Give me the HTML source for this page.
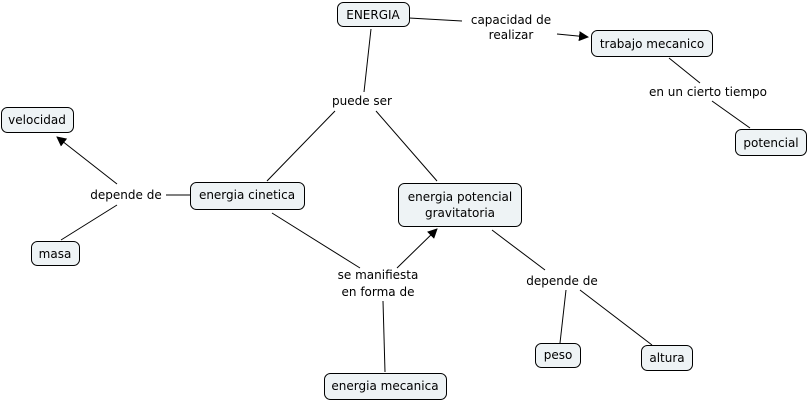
<!DOCTYPE html>
<html><head><style>body{margin:0;background:#fff}svg{display:block}text{font-family:"DejaVu Sans",Verdana,sans-serif;font-size:12px;fill:#000}</style></head><body>
<svg width="808" height="402" viewBox="0 0 808 402">
<defs><marker id="a" markerWidth="10" markerHeight="10" refX="9" refY="5" orient="auto" markerUnits="userSpaceOnUse"><path d="M0,0 L10,5 L0,10z" fill="#000"/></marker></defs>
<g stroke="#000" stroke-width="1" fill="none">
<line x1="409" y1="18" x2="462" y2="21"/>
<line x1="557" y1="34" x2="588" y2="37" marker-end="url(#a)"/>
<line x1="371" y1="29" x2="364" y2="92"/>
<line x1="335" y1="111" x2="267" y2="181"/>
<line x1="376" y1="111" x2="437" y2="181"/>
<line x1="669" y1="58" x2="700" y2="83"/>
<line x1="712" y1="101" x2="750" y2="128"/>
<line x1="166" y1="195" x2="190" y2="195"/>
<line x1="117" y1="184" x2="57" y2="137" marker-end="url(#a)"/>
<line x1="117" y1="205" x2="61" y2="240"/>
<line x1="272" y1="213" x2="360" y2="268"/>
<line x1="397" y1="268" x2="437" y2="229" marker-end="url(#a)"/>
<line x1="383" y1="301" x2="385" y2="372"/>
<line x1="492" y1="230" x2="545" y2="270"/>
<line x1="566" y1="290" x2="560" y2="343"/>
<line x1="580" y1="290" x2="652" y2="345"/>
</g>
<g fill="#eef3f5" stroke="#000">
<rect x="337.5" y="2.5" width="72" height="24" rx="6"/>
<rect x="591.5" y="30.5" width="121" height="26" rx="6"/>
<rect x="735.5" y="129.5" width="71" height="26" rx="6"/>
<rect x="1.5" y="107.5" width="72" height="25" rx="6"/>
<rect x="31.5" y="241.5" width="48" height="24" rx="6"/>
<rect x="190.5" y="182.5" width="114" height="27" rx="6"/>
<rect x="398.5" y="183.5" width="123" height="43" rx="6"/>
<rect x="535.5" y="343.5" width="45" height="24" rx="6"/>
<rect x="641.5" y="345.5" width="51" height="25" rx="6"/>
<rect x="324.5" y="373.5" width="122" height="26" rx="6"/>
</g>
<g text-anchor="middle">
<text x="373" y="19">ENERGIA</text>
<text x="652" y="48">trabajo mecanico</text>
<text x="771" y="147">potencial</text>
<text x="37" y="124">velocidad</text>
<text x="55" y="258">masa</text>
<text x="247" y="199">energia cinetica</text>
<text x="460" y="201">energia potencial</text>
<text x="460" y="217">gravitatoria</text>
<text x="558" y="359">peso</text>
<text x="667" y="362">altura</text>
<text x="385" y="390">energia mecanica</text>
<text x="511" y="24">capacidad de</text>
<text x="511" y="39">realizar</text>
<text x="362" y="105">puede ser</text>
<text x="708" y="96">en un cierto tiempo</text>
<text x="126" y="199">depende de</text>
<text x="378" y="279">se manifiesta</text>
<text x="378" y="296">en forma de</text>
<text x="562" y="285">depende de</text>
</g>
</svg>
</body></html>
